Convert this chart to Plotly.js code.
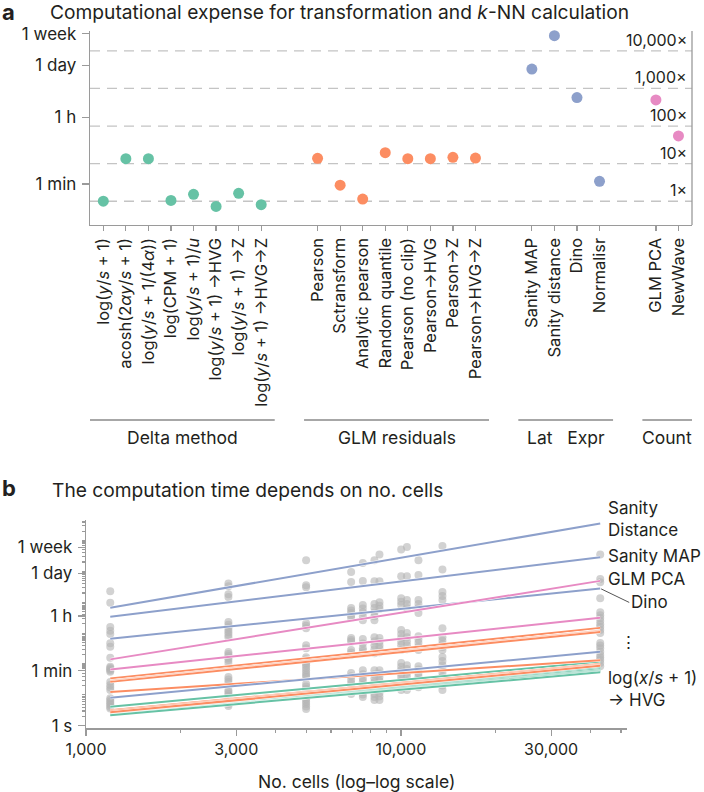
<!DOCTYPE html>
<html><head><meta charset="utf-8">
<script src="https://cdn.plot.ly/plotly-3.0.1.min.js"></script>
<style>body{margin:0;background:#fff;} #chart{width:704px;height:792px;}</style>
</head><body><div id="chart"></div>
<script>
const FONT = 'Inter, "Noto Sans", sans-serif';
const TXT = '#231f20';
const AX = '#9a9a9a';
const C_GREEN = '#66c2a5', C_ORANGE = '#fc8d62', C_BLUE = '#8da0cb', C_PINK = '#e78ac3';

// ---------- Panel a data ----------
const deltaLabels = ['log(<i>y</i>/<i>s</i> + 1)', 'acosh(2<i>αy</i>/<i>s</i> + 1)', 'log(<i>y</i>/<i>s</i> + 1/(4<i>α</i>))',
  'log(CPM + 1)', 'log(<i>y</i>/<i>s</i> + 1)/<i>u</i>', 'log(<i>y</i>/<i>s</i> + 1) →HVG', 'log(<i>y</i>/<i>s</i> + 1) →Z', 'log(<i>y</i>/<i>s</i> + 1) →HVG→Z'];
const deltaTimes = [21, 284, 284, 22, 32, 15.3, 34, 17];
const glmLabels = ['Pearson', 'Sctransform', 'Analytic pearson', 'Random quantile', 'Pearson (no clip)', 'Pearson→HVG', 'Pearson→Z', 'Pearson→HVG→Z'];
const glmTimes = [290, 56, 24, 410, 284, 284, 309, 295];
const latLabels = ['Sanity MAP', 'Sanity distance', 'Dino', 'Normalisr'];
const latTimes = [68700, 531000, 12000, 71];
const countLabels = ['GLM PCA', 'NewWave'];
const countTimes = [10400, 1143];
const groupNames = ['Delta method', 'GLM residuals', 'Lat&nbsp;&nbsp;&nbsp;Expr', 'Count'];
const yTickVals = [60, 3600, 86400, 604800];
const yTickText = ['1 min', '1 h', '1 day', '1 week'];
const foldFactors = [1, 10, 100, 1000, 10000];
const foldLabels = ['1×', '10×', '100×', '1,000×', '10,000×'];

// ---------- Panel b data ----------
const dotCells = [1194, 2833, 5000, 6950, 7570, 8240, 8550, 10020, 10450, 11370, 13550, 42950];
const dotLog10Seconds = [
  [4.36,3.98,3.20,3.08,2.97,2.67,2.56,2.20,1.91,1.87,1.83,1.79,1.75,1.42,1.32,1.24,1.16,0.89,0.83,0.78,0.72,0.67,0.61,0.56],
  [4.61,4.52,4.26,4.17,3.36,3.27,3.19,3.11,3.03,2.95,2.87,2.39,2.32,2.26,2.19,2.13,2.03,1.58,1.50,1.42,1.16,1.09,1.03,0.96,0.90,0.83,0.77,0.70,0.64],
  [5.36,4.55,4.49,3.32,3.24,3.16,2.61,2.51,2.22,2.15,2.09,2.02,1.96,1.88,1.80,1.71,1.64,1.58,1.35,1.27,1.19,1.11,1.03,0.94,0.86,0.78,0.70,0.62,0.54],
  [4.98,4.66,3.81,3.73,3.65,3.57,3.49,2.84,2.78,2.72,2.45,2.37,2.29,1.71,1.60,1.48,1.37,1.25,1.14,1.03],
  [5.27,4.69,3.91,3.80,3.68,3.55,3.42,2.81,2.66,2.51,2.43,2.35,1.80,1.67,1.54,1.43,1.32,1.20,1.09,1.01,0.93],
  [5.36,4.68,3.94,3.81,3.68,3.55,3.42,2.87,2.74,2.61,2.48,2.35,1.80,1.67,1.54,1.42,1.29,1.16,1.03,0.93,0.83],
  [5.55,4.68,4.00,3.89,3.78,2.84,2.72,2.61,2.50,2.38,1.80,1.69,1.58,1.45,1.32,1.19,1.06,0.95,0.83],
  [5.71,4.84,4.13,4.02,3.91,3.10,2.97,2.84,2.72,2.61,2.45,2.03,1.91,1.80,1.69,1.58,1.46,1.35,1.26,1.16],
  [5.79,4.84,4.07,3.94,3.81,3.00,2.87,2.74,2.61,2.48,1.96,1.84,1.71,1.58,1.45,1.30,1.16],
  [5.36,4.88,4.07,3.94,3.81,3.65,2.90,2.79,2.68,2.56,2.45,1.93,1.82,1.71,1.60,1.48,1.37,1.25],
  [5.82,5.06,4.33,4.20,4.07,3.16,2.87,2.75,2.64,2.55,2.45,2.23,2.10,1.96,1.84,1.71,1.58,1.45,1.30,1.16],
  [6.77,5.55,4.75,4.65,4.13,3.68,3.58,3.49,3.39,3.29,3.20,3.10,3.00,2.68,2.60,2.51,2.40,2.29,2.21,2.13,2.03,1.93]
];
const fitCells = [1194, 42950];
// fitted times (s) at the smallest and largest dataset
const greenStart = [4.12, 2.63, 2.51, 2.40, 2.34, 2.29, 2.24, 2.19];
const greenEnd   = [117.5, 89.1, 81.3, 74.1, 67.6, 61.7, 57.5, 53.7];
const orangeStart = [33.9, 28.8, 27.5, 26.3, 12.3, 3.16, 2.95, 2.75];
const orangeEnd   = [1479, 1202, 1148, 1096, 132, 100, 93.3, 87.1];
const blueNames = ['Sanity distance', 'Sanity MAP', 'Dino', 'Normalisr'];
const blueStart = [6683, 3365, 655, 8.05];
const blueEnd   = [3550000, 287700, 28000, 248];
const pinkNames = ['GLM PCA', 'NewWave'];
const pinkStart = [141, 66.8];
const pinkEnd   = [49300, 3126];
const bTickVals = [1, 60, 3600, 86400, 604800];
const bTickText = ['1 s', '1 min', '1 h', '1 day', '1 week'];
const xbTickVals = [1000, 3000, 10000, 30000];
const xbTickText = ['1,000', '3,000', '10,000', '30,000'];

// ---------- build panel a ----------
const groups = [
  {labels: deltaLabels, times: deltaTimes, color: C_GREEN},
  {labels: glmLabels, times: glmTimes, color: C_ORANGE},
  {labels: latLabels, times: latTimes, color: C_BLUE},
  {labels: countLabels, times: countTimes, color: C_PINK}
];
const traces = [];
const shapes = [];
const annotations = [];
let pos = 0;
const allPos = [], allText = [];
const xaRange = [-0.59, 26.1];
const baseline = deltaTimes[0];
foldFactors.forEach((f, i) => {
  traces.push({x: xaRange, y: [baseline * f, baseline * f], xaxis: 'x', yaxis: 'y', mode: 'lines',
    line: {color: '#c4c4c4', width: 1.3, dash: '10px,7px'}, hoverinfo: 'skip', showlegend: false});
  annotations.push({xref: 'x domain', yref: 'y', x: 0.995, y: Math.log10(baseline * f), text: foldLabels[i],
    showarrow: false, xanchor: 'right', yanchor: 'bottom', yshift: -1, font: {family: FONT, size: 16, color: TXT}});
});
groups.forEach((g, gi) => {
  const xs = [];
  g.labels.forEach((l) => { xs.push(pos); allPos.push(pos); allText.push(l); pos += 1; });
  pos += 1.5;
  traces.push({x: xs, y: g.times, xaxis: 'x', yaxis: 'y', mode: 'markers', type: 'scatter',
    marker: {color: g.color, size: 11}, showlegend: false, cliponaxis: false});
  const x0 = xs[0] - 0.6, x1 = xs[xs.length - 1] + 0.6;
  shapes.push({type: 'line', xref: 'x', yref: 'paper', x0: x0, x1: x1, y0: 1 - 420 / 792, y1: 1 - 420 / 792,
    line: {color: '#8a8a8a', width: 1.3}});
  annotations.push({xref: 'x', yref: 'paper', x: (x0 + x1) / 2, y: 1 - 438 / 792, text: groupNames[gi],
    showarrow: false, xanchor: 'center', yanchor: 'middle', font: {family: FONT, size: 17.5, color: TXT}});
});
// right frame line of panel a
shapes.push({type: 'line', xref: 'x domain', yref: 'y domain', x0: 1, x1: 1, y0: 0, y1: 1, line: {color: AX, width: 1.3}});

// ---------- build panel b ----------
dotCells.forEach((n, i) => {
  traces.push({x: dotLog10Seconds[i].map(() => n), y: dotLog10Seconds[i].map(v => Math.pow(10, v)),
    xaxis: 'x2', yaxis: 'y2', mode: 'markers', marker: {color: 'rgba(180,180,180,0.6)', size: 8},
    showlegend: false, cliponaxis: false, hoverinfo: 'skip'});
});
function addFit(s, e, color) {
  traces.push({x: fitCells, y: [s, e], xaxis: 'x2', yaxis: 'y2', mode: 'lines',
    line: {color: '#ffffff', width: 3.0}, showlegend: false, hoverinfo: 'skip'});
  traces.push({x: fitCells, y: [s, e], xaxis: 'x2', yaxis: 'y2', mode: 'lines',
    line: {color: color, width: 2}, showlegend: false});
}
greenStart.forEach((s, i) => addFit(s, greenEnd[i], C_GREEN));
orangeStart.forEach((s, i) => addFit(s, orangeEnd[i], C_ORANGE));
blueStart.forEach((s, i) => addFit(s, blueEnd[i], C_BLUE));
pinkStart.forEach((s, i) => addFit(s, pinkEnd[i], C_PINK));

// minor ticks
const bMinor = [];
for (let k = 0; k <= 6; k++) for (let d = 2; d <= 9; d++) bMinor.push(d * Math.pow(10, k));
for (let k = 1; k <= 6; k++) bMinor.push(Math.pow(10, k));
const xbMinor = [2000, 4000, 5000, 6000, 7000, 8000, 9000, 20000, 40000, 50000];

const LFS = 17;
const lab = (y, t, shift) => ({xref: 'paper', yref: 'y2', x: 606 / 704, y: y, yshift: shift || 0, text: t,
  showarrow: false, xanchor: 'left', yanchor: 'middle', align: 'left', font: {family: FONT, size: LFS, color: TXT}});
annotations.push(lab(Math.log10(blueEnd[0]), 'Sanity<br>Distance', 5));
annotations.push(lab(Math.log10(blueEnd[1]), 'Sanity MAP', 1));
annotations.push(lab(Math.log10(pinkEnd[0]), 'GLM PCA', 2));
annotations.push({xref: 'x2', yref: 'y2', x: Math.log10(fitCells[1]), y: Math.log10(blueEnd[2]), text: 'Dino',
  showarrow: true, arrowhead: 0, arrowwidth: 1, arrowcolor: '#555', ax: 29, ay: 14, standoff: 1,
  xanchor: 'left', yanchor: 'middle', font: {family: FONT, size: LFS, color: TXT}});
annotations.push({xref: 'paper', yref: 'y2', x: 628 / 704, y: Math.log10(orangeEnd[3]), yshift: -10, text: '⋮',
  showarrow: false, xanchor: 'center', yanchor: 'middle', font: {family: FONT, size: LFS, color: TXT}});
annotations.push(lab(Math.log10(greenEnd[7]), 'log(<i>x</i>/<i>s</i> + 1)<br>→ HVG', -17));

// titles
annotations.push({xref: 'paper', yref: 'paper', x: 0, y: 1 - 12 / 792, text: '<b>a</b>', showarrow: false,
  xanchor: 'left', yanchor: 'middle', font: {family: FONT, size: 22, color: TXT}});
annotations.push({xref: 'paper', yref: 'paper', x: 48 / 704, y: 1 - 12 / 792,
  text: 'Computational expense for transformation and <i>k</i>-NN calculation', showarrow: false,
  xanchor: 'left', yanchor: 'middle', font: {family: FONT, size: 19.2, color: TXT}});
annotations.push({xref: 'paper', yref: 'paper', x: 0, y: 1 - 488 / 792, text: '<b>b</b>', showarrow: false,
  xanchor: 'left', yanchor: 'middle', font: {family: FONT, size: 22, color: TXT}});
annotations.push({xref: 'paper', yref: 'paper', x: 50 / 704, y: 1 - 490 / 792,
  text: 'The computation time depends on no. cells', showarrow: false,
  xanchor: 'left', yanchor: 'middle', font: {family: FONT, size: 19.2, color: TXT}});
annotations.push({xref: 'paper', yref: 'paper', x: 356 / 704, y: 1 - 781 / 792,
  text: 'No. cells (log–log scale)', showarrow: false,
  xanchor: 'center', yanchor: 'middle', font: {family: FONT, size: 17.5, color: TXT}});

const layout = {
  width: 704, height: 792, margin: {l: 0, r: 0, t: 0, b: 0},
  paper_bgcolor: '#fff', plot_bgcolor: '#fff', showlegend: false,
  font: {family: FONT, color: TXT},
  xaxis: {domain: [90 / 704, 692 / 704], range: xaRange, anchor: 'y', tickmode: 'array', tickvals: allPos,
    ticktext: allText, tickangle: -90, ticks: 'outside', ticklen: 5, tickcolor: AX, tickwidth: 1.2,
    showline: true, linecolor: AX, linewidth: 1.3, showgrid: false, zeroline: false,
    tickfont: {family: FONT, size: 16.5, color: TXT}},
  yaxis: {domain: [1 - 225 / 792, 1 - 31 / 792], type: 'log', range: [0.69, 5.85], anchor: 'x',
    tickmode: 'array', tickvals: yTickVals, ticktext: yTickText, ticks: 'outside', ticklen: 7,
    tickcolor: AX, tickwidth: 1.2, showline: true, linecolor: AX, linewidth: 1.3, showgrid: false,
    zeroline: false, ticklabelstandoff: 2, tickfont: {family: FONT, size: 17, color: TXT}},
  xaxis2: {domain: [86 / 704, 627 / 704], type: 'log', range: [3, 4.718], anchor: 'y2', tickmode: 'array',
    tickvals: xbTickVals, ticktext: xbTickText, ticks: 'outside', ticklen: 6, tickcolor: AX, tickwidth: 1.2,
    showline: true, linecolor: AX, linewidth: 1.3, showgrid: false, zeroline: false,
    minor: {tickmode: 'array', tickvals: xbMinor, ticks: 'outside', ticklen: 3, tickcolor: AX, showgrid: false},
    tickfont: {family: FONT, size: 16, color: TXT}},
  yaxis2: {domain: [1 - 728.3 / 792, 1 - 520 / 792], type: 'log', range: [-0.084, 6.665], anchor: 'x2',
    tickmode: 'array', tickvals: bTickVals, ticktext: bTickText, ticks: 'outside', ticklen: 7,
    tickcolor: AX, tickwidth: 1.2, showline: true, linecolor: AX, linewidth: 1.3, showgrid: false,
    zeroline: false, ticklabelstandoff: 2,
    minor: {tickmode: 'array', tickvals: bMinor, ticks: 'outside', ticklen: 3, tickcolor: AX, showgrid: false},
    tickfont: {family: FONT, size: 17, color: TXT}},
  shapes: shapes, annotations: annotations
};
Plotly.newPlot('chart', traces, layout, {displayModeBar: false, staticPlot: true});
</script></body></html>
